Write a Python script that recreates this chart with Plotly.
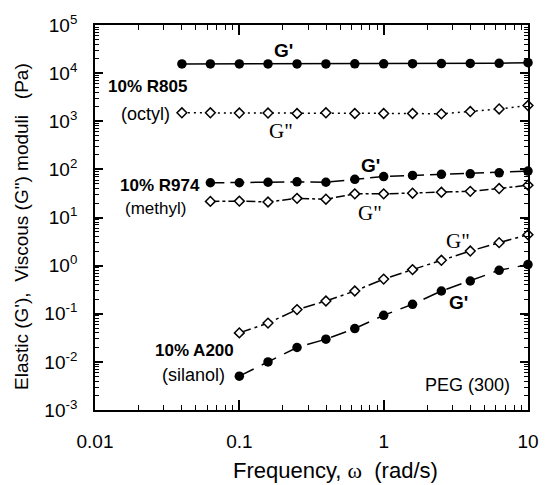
import plotly.graph_objects as go

# ---- data ----
freq_r805 = [0.04, 0.063, 0.1, 0.158, 0.251, 0.398, 0.631, 1.0, 1.585, 2.512, 3.981, 6.31, 10.0]
r805_gp = [15500, 15500, 15500, 15500, 15500, 15500, 15600, 15600, 15700, 15800, 15900, 16000, 16500]
r805_gpp = [1500, 1500, 1480, 1480, 1450, 1500, 1450, 1450, 1450, 1420, 1590, 1800, 2120]

freq_r974 = [0.063, 0.1, 0.158, 0.251, 0.398, 0.631, 1.0, 1.585, 2.512, 3.981, 6.31, 10.0]
r974_gp = [52.7, 52.7, 54, 55, 54, 62, 71, 75, 79, 81, 85, 92]
r974_gpp = [21.6, 21.9, 21, 25, 24, 31, 31, 32, 33.5, 35, 40, 47]

freq_a200 = [0.1, 0.158, 0.251, 0.398, 0.631, 1.0, 1.585, 2.512, 3.981, 6.31, 10.0]
a200_gpp = [0.040, 0.064, 0.122, 0.184, 0.297, 0.525, 0.826, 1.29, 2.01, 3.0, 4.4]
a200_gp = [0.00505, 0.0100, 0.0199, 0.0296, 0.0493, 0.093, 0.157, 0.297, 0.479, 0.80, 1.05]

x_ticks = [0.01, 0.1, 1, 10]
x_ticklabels = ["0.01", "0.1", "1", "10"]
y_ticks = [1e-3, 1e-2, 1e-1, 1, 10, 100, 1e3, 1e4, 1e5]
y_ticklabels = ["10<sup>-3</sup>", "10<sup>-2</sup>", "10<sup>-1</sup>", "10<sup>0</sup>",
                "10<sup>1</sup>", "10<sup>2</sup>", "10<sup>3</sup>", "10<sup>4</sup>", "10<sup>5</sup>"]

SANS = "Arial, Liberation Sans, sans-serif"
SERIF = "Times New Roman, Liberation Serif, serif"

W, H = 551, 485
ML, MR, MT, MB = 95, 14, 24, 75
PW, PH = W - ML - MR, H - MT - MB


def px(x):
    return (x - ML) / PW


def py(y):
    return (H - MB - y) / PH


# minor log ticks (2..9 in every decade)
x_minor = [m * 10.0 ** e for e in range(-2, 1) for m in range(2, 10)]
y_minor = [m * 10.0 ** e for e in range(-3, 5) for m in range(2, 10)]

fig = go.Figure()

filled = dict(symbol="circle", size=9.5, color="black", line=dict(color="black", width=0))
hollow = dict(symbol="diamond", size=7.5, color="white", line=dict(color="black", width=1.5))

series = [
    (freq_r805, r805_gp, filled, "solid"),
    (freq_r805, r805_gpp, hollow, "2px,4px"),
    (freq_r974, r974_gp, filled, "14px,6px"),
    (freq_r974, r974_gpp, hollow, "dashdot"),
    (freq_a200, a200_gpp, hollow, "12px,4px,3px,4px"),
    (freq_a200, a200_gp, filled, "16px,9px"),
]
for xs, ys, mk, dash in series:
    fig.add_trace(go.Scatter(x=xs, y=ys, mode="lines+markers", marker=mk,
                             line=dict(color="black", width=1.5, dash=dash),
                             showlegend=False, cliponaxis=False))

fig.add_trace(go.Scatter(x=[], y=[], xaxis="x2", yaxis="y2", showlegend=False, hoverinfo="skip"))

ann = []


def label(x, y, text, font, size, bold=False):
    t = f"<b>{text}</b>" if bold else text
    ann.append(dict(x=px(x), y=py(y), xref="paper", yref="paper", text=t, showarrow=False,
                    font=dict(family=font, size=size, color="black"),
                    xanchor="center", yanchor="middle"))


label(287, 50, "G'", SANS, 19, True)
label(149, 86, "10% R805", SANS, 17, True)
label(147, 113, "(octyl)", SANS, 18)
label(285, 130, 'G"', SERIF, 21)
label(161, 185, "10% R974", SANS, 17, True)
label(157, 208, "(methyl)", SANS, 17)
label(376, 165, "G'", SANS, 19, True)
label(376, 212, 'G"', SERIF, 21)
label(466, 241, 'G"', SERIF, 21)
label(466, 302, "G'", SANS, 19, True)
label(197, 350, "10% A200", SANS, 17, True)
label(196, 375, "(silanol)", SANS, 18)
label(475, 385, "PEG (300)", SANS, 18)

# axis titles
ann.append(dict(x=px(341), y=py(471), xref="paper", yref="paper",
                text='Frequency, <span style="font-family:Times New Roman, Liberation Serif, serif">ω</span>&nbsp;&nbsp;(rad/s)',
                showarrow=False, font=dict(family=SANS, size=22, color="black"),
                xanchor="center", yanchor="middle"))
ann.append(dict(x=px(20), y=py(226), xref="paper", yref="paper",
                text="Elastic (G'),&nbsp;&nbsp;Viscous (G\") moduli&nbsp;&nbsp;&nbsp;(Pa)", textangle=-90,
                showarrow=False, font=dict(family=SANS, size=19, color="black"),
                xanchor="center", yanchor="middle"))

axis_common = dict(type="log", showgrid=False, zeroline=False, showline=True,
                   linecolor="black", linewidth=1.8, mirror="allticks",
                   ticks="inside", tickcolor="black", tickwidth=1,
                   tickfont=dict(family=SANS, size=19, color="black"))

fig.update_layout(
    xaxis=dict(range=[-2, 1], tickmode="array", tickvals=x_ticks + x_minor,
               ticktext=x_ticklabels + [""] * len(x_minor), ticklen=5,
               ticklabelstandoff=13, **axis_common),
    yaxis=dict(range=[-3, 5], tickmode="array", tickvals=y_ticks + y_minor,
               ticktext=y_ticklabels + [""] * len(y_minor), ticklen=4,
               ticklabelstandoff=12, **axis_common),
    # overlay axes drawing the longer major (decade) ticks
    xaxis2=dict(type="log", range=[-2, 1], overlaying="x", anchor="y2", side="bottom",
                tickmode="array", tickvals=x_ticks, ticks="inside", ticklen=10,
                tickwidth=1.5, tickcolor="black", mirror="allticks", showline=False,
                showticklabels=False, showgrid=False, zeroline=False),
    yaxis2=dict(type="log", range=[-3, 5], overlaying="y", anchor="x2", side="left",
                tickmode="array", tickvals=y_ticks, ticks="inside", ticklen=8,
                tickwidth=1.5, tickcolor="black", mirror="allticks", showline=False,
                showticklabels=False, showgrid=False, zeroline=False),
)

fig.update_layout(width=W, height=H, margin=dict(l=ML, r=MR, t=MT, b=MB),
                  paper_bgcolor="white", plot_bgcolor="white",
                  font=dict(family=SANS, color="black"), annotations=ann)

fig.write_html("out.html")
